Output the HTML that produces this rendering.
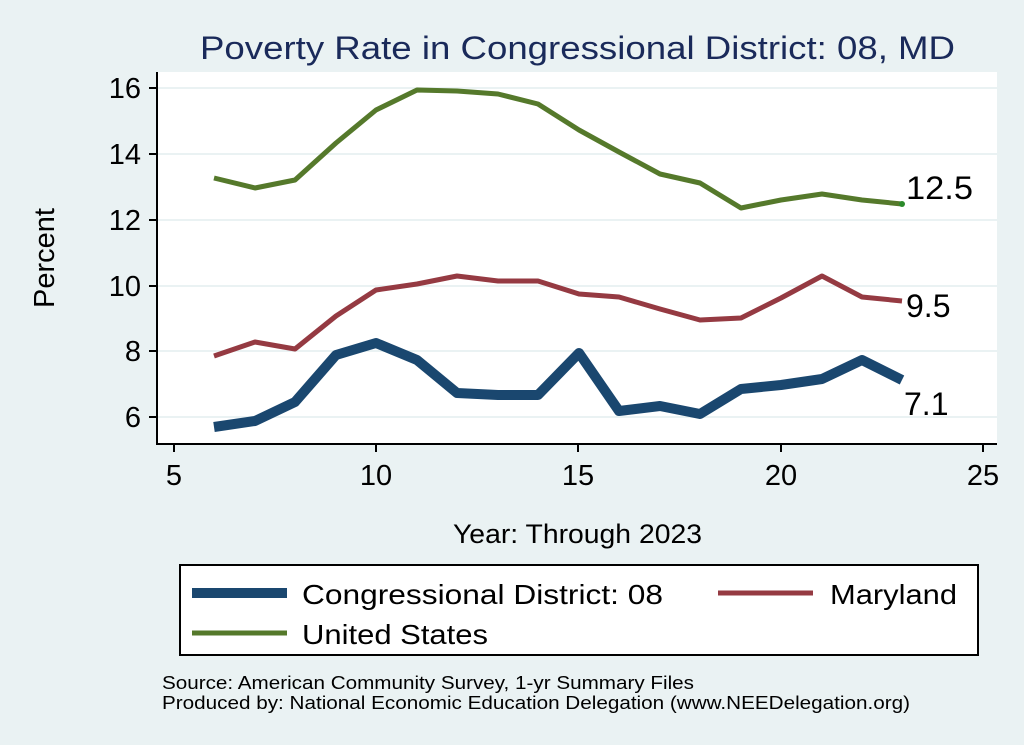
<!DOCTYPE html>
<html><head><meta charset="utf-8"><style>
html,body{margin:0;padding:0;background:#eaf2f3;}
svg{display:block;font-family:"Liberation Sans",Arial,sans-serif;}
</style></head><body>
<svg width="1024" height="745" viewBox="0 0 1024 745" xml:space="preserve">
<rect width="1024" height="745" fill="#eaf2f3"/>
<text x="200" y="59" font-size="32" fill="#1a2a5a" textLength="755" lengthAdjust="spacingAndGlyphs">Poverty Rate in Congressional District:  08, MD</text>
<rect x="157" y="72" width="840" height="372" fill="#fff"/>
<g stroke="#eaf2f3" stroke-width="2">
<line x1="157" x2="997" y1="88" y2="88"/><line x1="157" x2="997" y1="154" y2="154"/>
<line x1="157" x2="997" y1="220" y2="220"/><line x1="157" x2="997" y1="286" y2="286"/>
<line x1="157" x2="997" y1="351" y2="351"/><line x1="157" x2="997" y1="417" y2="417"/>
</g>
<g stroke="#000" stroke-width="2" fill="none">
<polyline points="157,72 157,444 997,444"/>
<line x1="149" x2="157" y1="88" y2="88"/><line x1="149" x2="157" y1="154" y2="154"/>
<line x1="149" x2="157" y1="220" y2="220"/><line x1="149" x2="157" y1="286" y2="286"/>
<line x1="149" x2="157" y1="351" y2="351"/><line x1="149" x2="157" y1="417" y2="417"/>
<line x1="174" x2="174" y1="444" y2="452"/><line x1="376" x2="376" y1="444" y2="452"/>
<line x1="578" x2="578" y1="444" y2="452"/><line x1="781" x2="781" y1="444" y2="452"/>
<line x1="983" x2="983" y1="444" y2="452"/>
</g>
<g font-size="29" fill="#000" text-anchor="end">
<text x="141" y="98">16</text><text x="141" y="164">14</text><text x="141" y="230">12</text>
<text x="141" y="296">10</text><text x="141" y="361">8</text><text x="141" y="427">6</text>
</g>
<g font-size="29" fill="#000" text-anchor="middle">
<text x="174" y="485">5</text><text x="376" y="485">10</text><text x="578" y="485">15</text>
<text x="781" y="485">20</text><text x="983" y="485">25</text>
</g>
<text x="54" y="258" font-size="29" text-anchor="middle" transform="rotate(-90 54 258)">Percent</text>
<text x="453" y="543" font-size="27" textLength="249" lengthAdjust="spacingAndGlyphs">Year: Through 2023</text>
<g fill="none" stroke-linejoin="round">
<polyline stroke="#55792b" stroke-width="5" points="214,178 255,188 295,180 336,143 376,110 417,90 457,91 498,94 538,104 579,130 619,152 660,174 700,183 741,208 781,200 822,194 862,200 902,204"/>
<polyline stroke="#953a42" stroke-width="5" points="214,356 255,342 295,349 336,316 376,290 417,284 457,276 498,281 538,281 579,294 619,297 660,309 700,320 741,318 781,298 822,276 862,297 902,301"/>
<polyline stroke="#1a476f" stroke-width="10" points="214,427 255,421 295,402 336,355 376,343 417,360 457,393 498,395 538,395 579,353 619,411 660,406 700,414 741,389 781,385 822,379 862,360 902,380"/>
</g>
<circle cx="902" cy="204" r="3" fill="#2a8a2a"/>
<g font-size="32" fill="#000">
<text x="906" y="199" textLength="67" lengthAdjust="spacingAndGlyphs">12.5</text><text x="906" y="317">9.5</text><text x="904" y="415">7.1</text>
</g>
<rect x="180" y="565" width="798" height="90" fill="#fff" stroke="#000" stroke-width="2"/>
<line x1="192" x2="287" y1="593" y2="593" stroke="#1a476f" stroke-width="10"/>
<text x="302" y="604" font-size="28" textLength="361" lengthAdjust="spacingAndGlyphs">Congressional District:  08</text>
<line x1="718" x2="813" y1="593" y2="593" stroke="#953a42" stroke-width="5"/>
<text x="830" y="604" font-size="28" textLength="127" lengthAdjust="spacingAndGlyphs">Maryland</text>
<line x1="192" x2="287" y1="633" y2="633" stroke="#55792b" stroke-width="5"/>
<text x="302" y="644" font-size="28" textLength="186" lengthAdjust="spacingAndGlyphs">United States</text>
<text x="162" y="689" font-size="18" textLength="532" lengthAdjust="spacingAndGlyphs">Source: American Community Survey, 1-yr Summary Files</text>
<text x="162" y="709" font-size="18" textLength="748" lengthAdjust="spacingAndGlyphs">Produced by: National Economic Education Delegation (www.NEEDelegation.org)</text>
</svg>
</body></html>
